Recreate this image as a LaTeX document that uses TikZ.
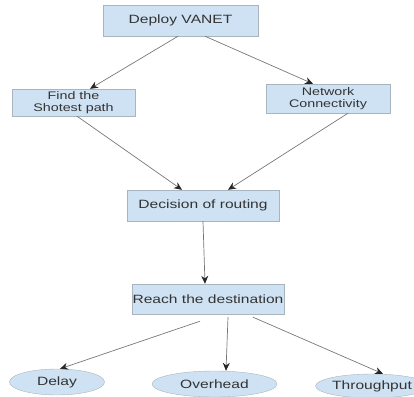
\documentclass[tikz,border=0pt]{standalone}
\usepackage{fontspec}
\setmainfont[FakeStretch=1.3]{Liberation Sans}
\usetikzlibrary{calc,arrows.meta,shapes.geometric}
\definecolor{boxfill}{HTML}{CFE2F3}
\definecolor{boxline}{HTML}{A8B4BE}
\definecolor{txt}{HTML}{333333}
\definecolor{conn}{HTML}{777777}
\tikzset{
  box/.style={draw=boxline, fill=boxfill, rectangle, inner sep=0pt, align=center,
    text=txt, font=\fontsize{12bp}{11.5bp}\selectfont},
  twobox/.style={box, font=\fontsize{11bp}{11.5bp}\selectfont},
  oval/.style={draw=boxline, fill=boxfill, ellipse, inner sep=0pt, text=txt,
    font=\fontsize{12bp}{14bp}\selectfont},
  conn/.style={draw=conn, line width=0.7pt, -{Stealth[length=8bp,width=7bp,color=black!85]}}
}
\begin{document}
\begin{tikzpicture}[x=1bp,y=-1bp]
\useasboundingbox (0,0) rectangle (414,397);
\clip (0,0) rectangle (414,397);
\node[box, minimum width=155bp, minimum height=31bp] (dep) at (180.5,20.5) {Deploy VANET};
\node[twobox, minimum width=123bp, minimum height=27bp] (find) at (73.5,102.5) {Find the\\Shotest path};
\node[twobox, minimum width=124bp, minimum height=29bp] (net) at (328,98.5) {Network\\Connectivity};
\node[box, minimum width=152bp, minimum height=31bp] (dec) at (203,205.5) {Decision of routing};
\node[box, minimum width=152bp, minimum height=30bp] (reach) at (208,299) {Reach the destination};
\node[oval, minimum width=95bp, minimum height=26bp] (delay) at (57,382) {Delay};
\node[oval, minimum width=125bp, minimum height=26bp] (over) at (214.5,384) {Overhead};
\node[oval, minimum width=98bp, minimum height=24bp] (thr) at (372,386) {Throughput};

\draw[conn] ($(dep.south)+(-2.5,0)$) -- ($(find.north)+(16.5,0)$);
\draw[conn] ($(dep.south)+(24.5,0)$) -- ($(net.north)+(-15,0)$);
\draw[conn] ($(find.south)+(3.5,0)$) -- ($(dec.north)+(-21,0)$);
\draw[conn] ($(net.south)+(20,0)$) -- ($(dec.north)+(25,0)$);
\draw[conn] (dec.south) -- ($(reach.north)+(-3,0)$);
\draw[conn] ($(reach.south)+(-8,7)$) -- ($(delay.north)+(3,0)$);
\draw[conn] ($(reach.south)+(20,3)$) -- ($(over.north)+(11.5,0)$);
\draw[conn] ($(reach.south)+(45,3)$) -- ($(thr.north)+(11,0)$);
\end{tikzpicture}
\end{document}
